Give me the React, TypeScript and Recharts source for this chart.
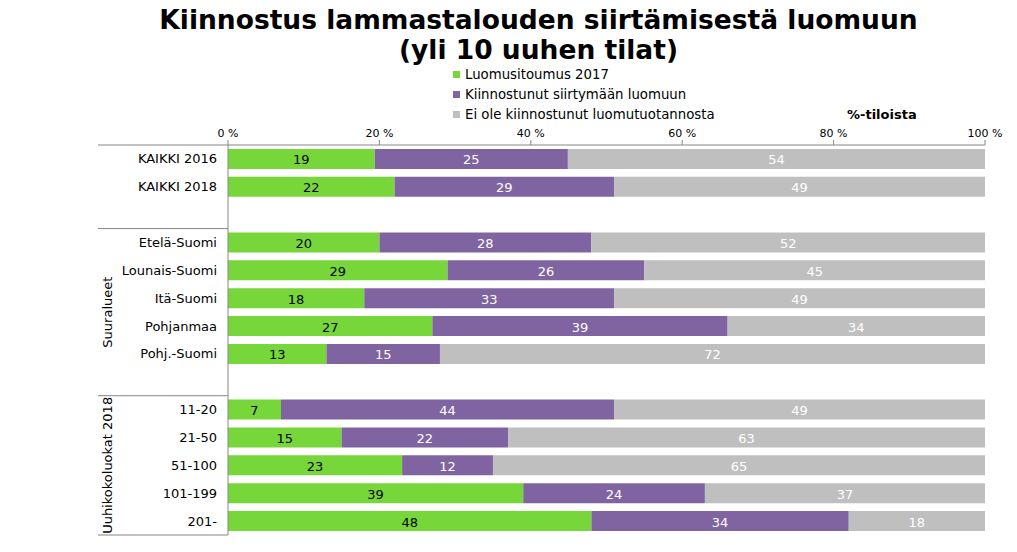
import React from 'react';
import { BarChart, Bar, XAxis, YAxis, Legend, LabelList } from 'recharts';

const categories = [
  'KAIKKI 2016',
  'KAIKKI 2018',
  ' ',
  'Etelä-Suomi',
  'Lounais-Suomi',
  'Itä-Suomi',
  'Pohjanmaa',
  'Pohj.-Suomi',
  '  ',
  '11-20',
  '21-50',
  '51-100',
  '101-199',
  '201-',
];
const luomusitoumus = [19, 22, null, 20, 29, 18, 27, 13, null, 7, 15, 23, 39, 48];
const kiinnostunut = [25, 29, null, 28, 26, 33, 39, 15, null, 44, 22, 12, 24, 34];
const eiKiinnostunut = [54, 49, null, 52, 45, 49, 34, 72, null, 49, 63, 65, 37, 18];
const seriesNames = ['Luomusitoumus 2017', 'Kiinnostunut siirtymään luomuun', 'Ei ole kiinnostunut luomutuotannosta'];
const xTicks = [0, 0.2, 0.4, 0.6, 0.8, 1];

// groups shown with brackets on the left side
const groups = [
  { label: '', start: 0, end: 3 },
  { label: 'Suuralueet', start: 3, end: 9 },
  { label: 'Uuhikokoluokat 2018', start: 9, end: 14 },
];

const data = categories.map((name, i) => ({
  name,
  luomu: luomusitoumus[i],
  kiinn: kiinnostunut[i],
  ei: eiKiinnostunut[i],
}));

const FONT = '"DejaVu Sans", Verdana, sans-serif';
const W = 1017;
const H = 552;
const margin = { top: 125, right: 32, bottom: 17, left: 98 };
const X_AXIS_H = 20;
const Y_AXIS_W = 130;
const plotTop = margin.top + X_AXIS_H;
const band = (H - margin.bottom - plotTop) / categories.length;

const makeLabel = (fill: string) => (props: any) => {
  const { x, y, width, height, value } = props;
  if (value == null || value === 0) return null;
  return (
    <text
      x={x + width / 2}
      y={y + height / 2 + 1}
      textAnchor="middle"
      dominantBaseline="central"
      fontSize={13}
      fontFamily={FONT}
      fill={fill}
    >
      {value}
    </text>
  );
};

const CategoryTick = (props: any) => {
  const { x, y, payload } = props;
  const idx = payload.index ?? props.index;
  const lineX1 = margin.left;
  const lineX2 = margin.left + Y_AXIS_W;
  const parts: React.ReactNode[] = [];
  groups.forEach((g, gi) => {
    if (g.start === idx) {
      parts.push(
        <line key={'t' + gi} x1={lineX1} x2={lineX2} y1={y - band / 2} y2={y - band / 2} stroke="#868686" />
      );
    }
    if (g.end - 1 === idx && gi === groups.length - 1) {
      parts.push(
        <line key={'b' + gi} x1={lineX1} x2={lineX2} y1={y + band / 2} y2={y + band / 2} stroke="#868686" />
      );
    }
    if (g.label && idx === g.start) {
      const cy = y - band / 2 + ((g.end - g.start) * band) / 2;
      parts.push(
        <text
          key={'g' + gi}
          x={lineX1 + 10}
          y={cy}
          transform={`rotate(-90 ${lineX1 + 10} ${cy})`}
          textAnchor="middle"
          dominantBaseline="central"
          fontSize={13}
          fontFamily={FONT}
          fill="#000"
        >
          {g.label}
        </text>
      );
    }
  });
  return (
    <g>
      {parts}
      <text x={x} y={y} textAnchor="end" dominantBaseline="central" fontSize={13} fontFamily={FONT} fill="#000">
        {payload.value}
      </text>
    </g>
  );
};

const LegendContent = (props: any) => {
  const items = [...(props.payload || [])].sort(
    (a: any, b: any) => seriesNames.indexOf(a.value) - seriesNames.indexOf(b.value)
  );
  return (
    <div style={{ fontFamily: FONT, fontSize: 13.3, color: '#000' }}>
      {items.map((p: any) => (
        <div key={p.value} style={{ display: 'flex', alignItems: 'center', height: 19.7 }}>
          <span style={{ width: 7, height: 7, background: p.color, marginRight: 5, display: 'inline-block' }} />
          <span>{p.value}</span>
        </div>
      ))}
    </div>
  );
};

export default function App() {
  return (
    <div style={{ position: 'absolute', left: 0, top: 0, width: W, height: H, background: '#fff', fontFamily: FONT }}>
      <div
        style={{
          position: 'absolute',
          left: 30,
          top: 5,
          width: W,
          textAlign: 'center',
          fontWeight: 'bold',
          fontSize: 26.5,
          lineHeight: '30px',
          color: '#000',
        }}
      >
        Kiinnostus lammastalouden siirtämisestä luomuun
        <br />
        (yli 10 uuhen tilat)
      </div>
      <div style={{ position: 'absolute', left: 847, top: 107, fontSize: 13, fontWeight: 'bold', color: '#000' }}>
        %-tiloista
      </div>
      <BarChart
        width={W}
        height={H}
        data={data}
        layout="vertical"
        stackOffset="expand"
        barCategoryGap="14%"
        margin={margin}
      >
        <XAxis
          type="number"
          orientation="top"
          domain={[0, 1]}
          ticks={xTicks}
          tickFormatter={(v: number) => `${Math.round(v * 100)} %`}
          height={X_AXIS_H}
          tickSize={5}
          tickMargin={3}
          axisLine={{ stroke: '#868686' }}
          tickLine={{ stroke: '#868686' }}
          tick={{ fontSize: 11, fill: '#000', fontFamily: FONT }}
          interval={0}
        />
        <YAxis
          type="category"
          dataKey="name"
          width={Y_AXIS_W}
          tickLine={false}
          tickMargin={5}
          axisLine={{ stroke: '#868686' }}
          tick={<CategoryTick />}
          interval={0}
        />
        <Legend
          layout="vertical"
          align="center"
          verticalAlign="middle"
          wrapperStyle={{ top: 65, left: 453, width: 320 }}
          content={<LegendContent />}
        />
        <Bar dataKey="luomu" name={seriesNames[0]} stackId="a" fill="#77D63A" isAnimationActive={false}>
          <LabelList dataKey="luomu" content={makeLabel('#000')} />
        </Bar>
        <Bar dataKey="kiinn" name={seriesNames[1]} stackId="a" fill="#8064A2" isAnimationActive={false}>
          <LabelList dataKey="kiinn" content={makeLabel('#fff')} />
        </Bar>
        <Bar dataKey="ei" name={seriesNames[2]} stackId="a" fill="#BFBFBF" isAnimationActive={false}>
          <LabelList dataKey="ei" content={makeLabel('#fff')} />
        </Bar>
      </BarChart>
    </div>
  );
}
